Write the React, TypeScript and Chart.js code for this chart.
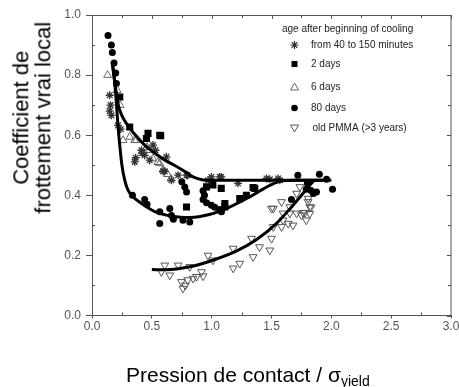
import React, { useEffect, useRef } from 'react';
import { Chart, registerables } from 'chart.js';

Chart.register(...registerables);

const FONT = '"Liberation Sans", Arial, Helvetica, sans-serif';

// ---------- data ----------
const xTickValues = [0, 0.5, 1.0, 1.5, 2.0, 2.5, 3.0];
const yTickValues = [0, 0.2, 0.4, 0.6, 0.8, 1.0];

const legendTitle = 'age after beginning of cooling';
const legendLabels = ['from 40 to 150 minutes', '2 days', '6 days', '80 days', 'old PMMA (>3 years)'];

const seriesMinutes: [number, number][] = [
  [0.148, 0.733], [0.155, 0.70], [0.148, 0.68], [0.162, 0.666], [0.217, 0.633], [0.24, 0.62],
  [0.357, 0.511], [0.365, 0.525], [0.413, 0.55], [0.42, 0.54], [0.44, 0.533], [0.482, 0.517],
  [0.51, 0.567], [0.53, 0.55], [0.622, 0.528], [0.608, 0.48], [0.594, 0.48], [0.664, 0.45],
  [0.72, 0.467], [0.79, 0.467], [0.80, 0.467], [0.97, 0.45], [0.998, 0.461], [1.068, 0.461],
  [1.08, 0.461], [1.22, 0.44], [1.458, 0.456], [1.486, 0.453], [1.555, 0.456], [1.57, 0.45],
];

const series2Days: [number, number][] = [
  [0.232, 0.727], [0.315, 0.627], [0.455, 0.589], [0.468, 0.606], [0.566, 0.60], [0.574, 0.598],
  [0.79, 0.361], [0.957, 0.428], [1.01, 0.434], [1.08, 0.423], [1.11, 0.373], [1.11, 0.361],
  [1.235, 0.389], [1.29, 0.40], [1.36, 0.423], [1.346, 0.426],
];

const series6Days: [number, number][] = [
  [0.13, 0.80], [0.21, 0.75], [0.235, 0.70], [0.259, 0.583], [0.315, 0.594], [0.357, 0.583],
  [0.37, 0.583], [0.46, 0.56], [0.482, 0.55], [0.51, 0.522], [0.55, 0.51], [0.566, 0.506],
  [0.594, 0.484], [0.63, 0.47], [0.66, 0.455],
];

const series80Days: [number, number][] = [
  [0.134, 0.932], [0.162, 0.90], [0.17, 0.875], [0.184, 0.84], [0.198, 0.807], [0.204, 0.772],
  [0.338, 0.40], [0.44, 0.386], [0.46, 0.37], [0.566, 0.345], [0.566, 0.306], [0.65, 0.356],
  [0.664, 0.333], [0.68, 0.32], [0.76, 0.317], [0.817, 0.311], [0.75, 0.445], [0.775, 0.428],
  [0.79, 0.411], [0.928, 0.415], [0.94, 0.40], [0.928, 0.386], [0.957, 0.375], [0.998, 0.367],
  [1.026, 0.36], [1.068, 0.353], [1.082, 0.345], [1.0, 0.445], [1.667, 0.386], [1.72, 0.467],
  [1.79, 0.42], [1.80, 0.44], [1.83, 0.416], [1.85, 0.406], [1.876, 0.411], [1.90, 0.47],
  [1.96, 0.453], [2.01, 0.42],
];

const seriesOldPMMA: [number, number][] = [
  [0.58, 0.145], [0.608, 0.167], [0.65, 0.134], [0.72, 0.167], [0.747, 0.112], [0.76, 0.09],
  [0.78, 0.10], [0.80, 0.118], [0.817, 0.162], [0.845, 0.123], [0.873, 0.129], [0.915, 0.145],
  [0.928, 0.131], [0.97, 0.20], [1.01, 0.184], [1.18, 0.223], [1.18, 0.157], [1.235, 0.173],
  [1.333, 0.256], [1.346, 0.195], [1.40, 0.228], [1.486, 0.217], [1.50, 0.256], [1.515, 0.295],
  [1.50, 0.356], [1.515, 0.356], [1.584, 0.295], [1.584, 0.378], [1.597, 0.317], [1.597, 0.34],
  [1.64, 0.306], [1.653, 0.34], [1.653, 0.361], [1.68, 0.30], [1.71, 0.34], [1.71, 0.406],
  [1.737, 0.428], [1.75, 0.334], [1.764, 0.342], [1.78, 0.342], [1.79, 0.317], [1.806, 0.378],
  [1.806, 0.389], [1.82, 0.339], [1.82, 0.361], [1.83, 0.36],
];

const fitUpper: [number, number][] = [
  [0.17, 0.84], [0.19, 0.776], [0.22, 0.70], [0.25, 0.665], [0.30, 0.632], [0.37, 0.597],
  [0.44, 0.567], [0.54, 0.536], [0.61, 0.517], [0.71, 0.495], [0.78, 0.478], [0.84, 0.462],
  [0.92, 0.452], [1.0, 0.45], [1.5, 0.45], [2.0, 0.45],
];

const fitLower: [number, number][] = [
  [0.17, 0.84], [0.19, 0.776], [0.205, 0.70], [0.217, 0.633], [0.232, 0.566], [0.25, 0.50],
  [0.275, 0.448], [0.30, 0.418], [0.338, 0.397], [0.40, 0.377], [0.455, 0.362], [0.54, 0.343],
  [0.62, 0.334], [0.72, 0.328], [0.82, 0.326], [0.98, 0.336], [1.15, 0.361], [1.32, 0.395],
  [1.49, 0.434], [1.59, 0.448], [1.70, 0.45], [1.93, 0.45],
];

const fitPMMA: [number, number][] = [
  [0.50, 0.153], [0.62, 0.152], [0.817, 0.162], [1.01, 0.184], [1.21, 0.215], [1.37, 0.251],
  [1.54, 0.306], [1.68, 0.367], [1.82, 0.433], [1.86, 0.452],
];

// ---------- helpers ----------
const toXY = (arr: [number, number][]) => arr.map(([x, y]) => ({ x, y }));

type Marker = 'star' | 'rect' | 'triangle' | 'circle' | 'invtriangle';
const legendMarkers: Marker[] = ['star', 'rect', 'triangle', 'circle', 'invtriangle'];
const legendColors = ['#333', '#000', '#666', '#000', '#555'];

function drawMarker(ctx: CanvasRenderingContext2D, m: Marker, x: number, y: number, color: string) {
  ctx.save();
  ctx.strokeStyle = color;
  ctx.fillStyle = color;
  ctx.lineWidth = 1;
  if (m === 'star') {
    const r = 4;
    ctx.lineWidth = 1.2;
    ctx.beginPath();
    for (let i = 0; i < 4; i++) {
      const a = (Math.PI / 4) * i;
      ctx.moveTo(x - r * Math.cos(a), y - r * Math.sin(a));
      ctx.lineTo(x + r * Math.cos(a), y + r * Math.sin(a));
    }
    ctx.stroke();
  } else if (m === 'rect') {
    ctx.fillRect(x - 3, y - 3, 6, 6);
  } else if (m === 'circle') {
    ctx.beginPath();
    ctx.arc(x, y, 3.3, 0, Math.PI * 2);
    ctx.fill();
  } else if (m === 'triangle') {
    ctx.beginPath();
    ctx.moveTo(x, y - 4);
    ctx.lineTo(x + 4, y + 3);
    ctx.lineTo(x - 4, y + 3);
    ctx.closePath();
    ctx.stroke();
  } else {
    ctx.beginPath();
    ctx.moveTo(x, y + 4);
    ctx.lineTo(x + 4, y - 3);
    ctx.lineTo(x - 4, y - 3);
    ctx.closePath();
    ctx.stroke();
  }
  ctx.restore();
}

const framePlugin = {
  id: 'frameTicks',
  afterDraw(chart: any) {
    const { ctx, chartArea } = chart;
    const { left, right, top, bottom } = chartArea;
    const xs = chart.scales.x;
    const ys = chart.scales.y;
    ctx.save();
    ctx.strokeStyle = '#555';
    ctx.lineWidth = 1;
    ctx.beginPath();
    ctx.rect(left + 0.5, top + 0.5, right - left - 0.5, bottom - top - 0.5);
    ctx.stroke();
    ctx.beginPath();
    for (let i = 0; i <= 12; i++) {
      const v = i * 0.25;
      const px = Math.round(xs.getPixelForValue(v)) + 0.5;
      const major = i % 2 === 0;
      if (!major) {
        ctx.moveTo(px, bottom);
        ctx.lineTo(px, bottom - 3);
      }
      ctx.moveTo(px, top);
      ctx.lineTo(px, top + (major ? 4 : 3));
    }
    for (let i = 0; i <= 10; i++) {
      const v = i * 0.1;
      const py = Math.round(ys.getPixelForValue(v)) + 0.5;
      const major = i % 2 === 0;
      if (!major) {
        ctx.moveTo(left, py);
        ctx.lineTo(left + 3, py);
      }
      ctx.moveTo(right, py);
      ctx.lineTo(right - (major ? 4 : 3), py);
    }
    ctx.stroke();

    // legend
    ctx.font = `10px ${FONT}`;
    ctx.fillStyle = '#222';
    ctx.textBaseline = 'middle';
    ctx.textAlign = 'left';
    ctx.fillText(legendTitle, 282, 29);
    const rowY = [45, 64, 87, 108, 128];
    legendLabels.forEach((lab, i) => {
      drawMarker(ctx, legendMarkers[i], 294.5, rowY[i], legendColors[i]);
      ctx.fillStyle = '#222';
      ctx.fillText(lab, i === 4 ? 312.5 : 311, rowY[i]);
    });
    ctx.restore();
  },
};

export default function App() {
  const canvasRef = useRef<HTMLCanvasElement | null>(null);

  useEffect(() => {
    document.body.style.margin = '0';
    const canvas = canvasRef.current;
    if (!canvas) return;

    const curve = (data: [number, number][]) => ({
      type: 'line' as const,
      data: toXY(data),
      showLine: true,
      borderColor: '#000',
      borderWidth: 3,
      pointRadius: 0,
      cubicInterpolationMode: 'monotone' as const,
      fill: false,
      order: 0,
    });

    const chart = new Chart(canvas, {
      type: 'scatter',
      data: {
        datasets: [
          curve(fitUpper),
          curve(fitLower),
          curve(fitPMMA),
          {
            label: legendLabels[0],
            data: toXY(seriesMinutes),
            pointStyle: 'star',
            pointRadius: 4,
            borderColor: '#333',
            backgroundColor: '#333',
            borderWidth: 1.3,
            order: 1,
          },
          {
            label: legendLabels[1],
            data: toXY(series2Days),
            pointStyle: 'rect',
            pointRadius: 5,
            borderColor: '#000',
            backgroundColor: '#000',
            borderWidth: 0,
            order: 1,
          },
          {
            label: legendLabels[2],
            data: toXY(series6Days),
            pointStyle: 'triangle',
            pointRadius: 4.5,
            borderColor: '#666',
            backgroundColor: 'rgba(255,255,255,0)',
            borderWidth: 1,
            order: 1,
          },
          {
            label: legendLabels[3],
            data: toXY(series80Days),
            pointStyle: 'circle',
            pointRadius: 3.5,
            borderColor: '#000',
            backgroundColor: '#000',
            borderWidth: 0,
            order: 1,
          },
          {
            label: legendLabels[4],
            data: toXY(seriesOldPMMA),
            pointStyle: 'triangle',
            rotation: 180,
            pointRadius: 4.5,
            borderColor: '#555',
            backgroundColor: 'rgba(255,255,255,0)',
            borderWidth: 1,
            order: 1,
          },
        ] as any,
      },
      plugins: [framePlugin],
      options: {
        responsive: false,
        animation: false,
        events: [],
        layout: { padding: { top: 15, right: 8, bottom: 0, left: 0 } },
        plugins: {
          legend: { display: false },
          tooltip: { enabled: false },
          title: { display: false },
        },
        scales: {
          x: {
            type: 'linear',
            min: 0,
            max: 3,
            afterBuildTicks: (s: any) => {
              s.ticks = xTickValues.map((v) => ({ value: v }));
            },
            afterFit: (s: any) => {
              s.height = 71.5;
              s.paddingLeft = 0;
              s.paddingRight = 0;
            },
            grid: {
              display: true,
              drawOnChartArea: false,
              drawTicks: true,
              tickLength: 3,
              color: '#555',
            },
            border: { display: true, color: '#555', width: 1 },
            ticks: {
              padding: 1,
              color: '#555',
              font: { family: FONT, size: 12 },
              maxRotation: 0,
              autoSkip: false,
              callback: (v: any) => Number(v).toFixed(1),
            },
          },
          y: {
            type: 'linear',
            min: 0,
            max: 1,
            afterBuildTicks: (s: any) => {
              s.ticks = yTickValues.map((v) => ({ value: v }));
            },
            afterFit: (s: any) => {
              s.width = 92;
              s.paddingTop = 0;
              s.paddingBottom = 0;
            },
            grid: {
              display: true,
              drawOnChartArea: false,
              drawTicks: true,
              tickLength: 6,
              color: '#555',
            },
            border: { display: true, color: '#555', width: 1 },
            ticks: {
              padding: 5,
              color: '#555',
              font: { family: FONT, size: 12 },
              autoSkip: false,
              callback: (v: any) => Number(v).toFixed(1),
            },
          },
        },
      } as any,
    });

    return () => {
      chart.destroy();
    };
  }, []);

  return (
    <div style={{ position: 'relative', width: 459, height: 387, overflow: 'hidden', background: '#fff' }}>
      <canvas ref={canvasRef} width={459} height={387} style={{ display: 'block' }} />
      <div
        style={{
          position: 'absolute',
          left: 31.5 - 130,
          top: 118 - 21.7,
          width: 260,
          height: 43.4,
          transform: 'rotate(-90deg)',
          transformOrigin: 'center',
          textAlign: 'center',
          fontFamily: FONT,
          fontSize: 22,
          lineHeight: '21.7px',
          color: '#000',
          whiteSpace: 'nowrap',
        }}
      >
        <div>Coefficient de</div>
        <div>frottement vrai local</div>
      </div>
      <div
        style={{
          position: 'absolute',
          left: 126,
          top: 363,
          fontFamily: FONT,
          fontSize: 21,
          lineHeight: '24px',
          color: '#000',
          whiteSpace: 'nowrap',
        }}
      >
        Pression de contact / σ
        <span style={{ fontSize: 14, position: 'relative', top: 4 }}>yield</span>
      </div>
    </div>
  );
}
